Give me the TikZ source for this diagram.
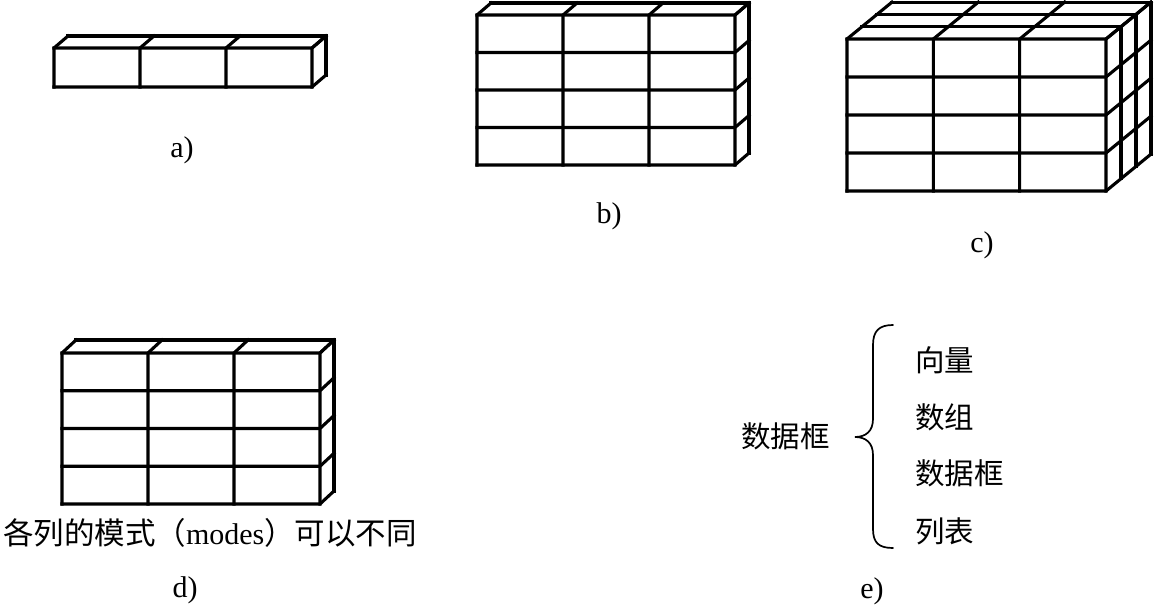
\documentclass[tikz,border=0pt]{standalone}
\usepackage{fontspec}
\setmainfont{Liberation Serif}
\newfontfamily\cjk{Noto Sans CJK SC}
\tikzset{
  boxline/.style={draw=black, line width=3.1pt, line join=miter, line cap=rect},
  bracelin/.style={draw=black, line width=1.7pt, line cap=round},
  lbl/.style={inner sep=0pt, font=\fontsize{30}{36}\selectfont},
  zh/.style={inner sep=0pt, font=\fontsize{29.5}{34}\selectfont\cjk},
}
% #1 x0, #2 y0, #3 width, #4 height, #5 columns, #6 rows, #7 layers, #8 dx, #9 dy
\newcommand\gridbox[9]{%
  \foreach \i in {0,...,#5}{%
    \draw[boxline] ({#1+\i*#3/#5},{#2+#4}) -- ({#1+\i*#3/#5},#2) -- ++({#7*#8},{#7*#9});
  }
  \foreach \j in {0,...,#6}{%
    \draw[boxline] (#1,{#2+\j*#4/#6}) -- ({#1+#3},{#2+\j*#4/#6}) -- ++({#7*#8},{#7*#9});
  }
  \foreach \k in {1,...,#7}{%
    \draw[boxline] ({#1+\k*#8},{#2+\k*#9}) -- ({#1+#3+\k*#8},{#2+\k*#9}) -- ({#1+#3+\k*#8},{#2+#4+\k*#9});
  }
}
\begin{document}
\begin{tikzpicture}[x=1pt,y=-1pt]
\useasboundingbox (0,0) rectangle (1154,605);
% a)
\gridbox{54}{48}{258}{39}{3}{1}{1}{14}{-12}
\node[lbl, anchor=base] (la) at (182,157) {a)};
% b)
\gridbox{477}{15}{258}{150}{3}{4}{1}{14}{-12}
\node[lbl, anchor=base] (lb) at (609,223) {b)};
% c)
\gridbox{847}{39}{259}{152}{3}{4}{3}{15}{-12.3}
\node[lbl, anchor=base] (lc) at (982,252) {c)};
% d)
\gridbox{62}{353}{258}{151}{3}{4}{1}{14}{-13}
\node[lbl, anchor=base] (cap) at (210,544) {{\fontsize{30.5}{36}\selectfont\cjk 各列的模式（}modes{\fontsize{30.5}{36}\selectfont\cjk ）可以不同}};
\node[lbl, anchor=base] (ld) at (185,597) {d)};
% e)
\node[zh, anchor=west] (df) at (741,436) {数据框};
\draw[bracelin] (893,325) .. controls (879,325) and (873,331) .. (873,345)
  -- (873,419) .. controls (873,431) and (866,437) .. (855,437)
  .. controls (866,437) and (873,443) .. (873,455)
  -- (873,529) .. controls (873,543) and (879,548) .. (893,548);
\node[zh, anchor=west] (v1) at (915,360) {向量};
\node[zh, anchor=west] (v2) at (915,417) {数组};
\node[zh, anchor=west] (v3) at (915,473) {数据框};
\node[zh, anchor=west] (v4) at (915,531) {列表};
\node[lbl, anchor=base] (le) at (872,598) {e)};
\end{tikzpicture}
\end{document}
